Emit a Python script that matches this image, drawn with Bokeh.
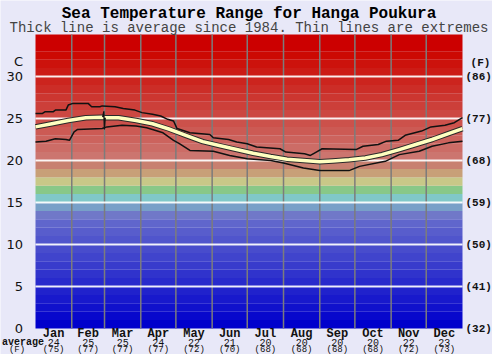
from bokeh.plotting import figure
from bokeh.models import ColumnDataSource, Range1d
from bokeh.core.properties import value
from bokeh.embed import file_html
from bokeh.resources import INLINE

# ---------------- data ----------------
title_text = "Sea Temperature Range for Hanga Poukura"
subtitle_text = "Thick line is average since 1984. Thin lines are extremes"

months = ["Jan", "Feb", "Mar", "Apr", "May", "Jun", "Jul", "Aug", "Sep", "Oct", "Nov", "Dec"]
month_days = [31, 28, 31, 30, 31, 30, 31, 31, 30, 31, 30, 31]
month_avg_c = ["24", "25", "25", "24", "22", "21", "20", "20", "20", "20", "22", "23"]
month_avg_f = ["(75)", "(77)", "(77)", "(77)", "(72)", "(70)", "(68)", "(68)", "(68)", "(68)", "(72)", "(73)"]

c_ticks = [0, 5, 10, 15, 20, 25, 30]
c_labels = ["0", "5", "10", "15", "20", "25", "30"]
f_labels = ["(32)", "(41)", "(50)", "(59)", "(68)", "(77)", "(86)"]

avg_day = [0, 14, 28, 43, 57, 59.8, 71, 86, 100, 114, 129, 143, 158, 172, 186, 201,
           215, 229, 243, 254, 268, 282, 296, 311, 325, 339, 353, 365]
avg_temp = [24.0, 24.37, 24.76, 25.08, 25.15, 25.1, 25.08, 24.76, 24.37, 23.75, 22.95,
            22.25, 21.75, 21.3, 20.87, 20.47, 20.16, 20.0, 19.85, 19.95, 20.1, 20.3, 20.7, 21.3,
            21.9, 22.5, 23.2, 23.8]
spike_day = [57.4, 58.4, 58.9, 59.6]
spike_temp = [25.15, 25.85, 23.7, 25.1]

max_day = [0, 6, 8, 15, 17, 26, 28, 32, 45, 48, 55, 57, 68, 75, 85, 91, 100, 107, 113, 118, 121,
           132, 149, 152, 165, 172, 181, 189, 209, 214, 230, 235, 240, 245, 274, 280, 293, 300,
           310, 316, 330, 338, 350, 358, 365]
max_temp = [25.6, 25.6, 25.8, 25.8, 26.0, 26.0, 26.6, 26.8, 26.8, 26.4, 26.4, 26.5, 26.4, 26.2,
            26.0, 25.7, 25.5, 25.3, 24.9, 24.7, 23.8, 23.3, 23.1, 22.7, 22.5, 22.2, 22.0, 21.6,
            21.4, 21.0, 20.8, 20.6, 21.0, 21.4, 21.3, 21.7, 21.9, 22.3, 22.4, 23.0, 23.5, 24.0,
            24.2, 24.5, 25.1]

min_day = [0, 9, 17, 26, 29, 33, 36, 57, 61, 74, 86, 95, 100, 109, 118, 123, 132, 152, 166, 181,
           201, 212, 229, 243, 268, 277, 299, 311, 328, 339, 353, 365]
min_temp = [22.2, 22.3, 22.6, 22.5, 22.4, 23.4, 23.7, 23.8, 24.0, 24.2, 24.1, 23.9, 23.7, 23.3,
            22.4, 22.0, 21.2, 21.1, 20.6, 20.2, 20.0, 19.7, 19.1, 18.8, 18.8, 19.3, 19.9, 20.7,
            21.1, 21.7, 22.1, 22.3]

# ---------------- layout helpers (pixel -> data) ----------------
W, H = 492, 354
X0, X1 = 35.0, 462.0          # frame of the temperature chart, pixels
Y0, Y1 = 328.0, 34.0          # 0 C and 35 C, pixels
DAYS, TMAX = 365.0, 35.0
kx = DAYS / (X1 - X0)
ky = TMAX / (Y0 - Y1)


def dx(px):
    return (px - X0) * kx


def ty(py):
    return (Y0 - py) * ky


def band_color(t):
    if t >= 20:
        g = max(0, int((33 - t) * 9))
        return "#%02x%02x%02x" % (204, g, max(0, g - 6))
    fixed = {19: (200, 128, 112), 18: (200, 160, 120), 17: (200, 200, 136),
             16: (136, 200, 136), 15: (128, 200, 200), 14: (120, 160, 200),
             13: (112, 120, 200)}
    if t in fixed:
        return "#%02x%02x%02x" % fixed[t]
    return "#%02x%02x%02x" % (int(8 * t), int(8.5 * t), 204)


bg = "#e8e8f8"
bounds = [0]
for d in month_days:
    bounds.append(bounds[-1] + d)
centers = [(bounds[i] + bounds[i + 1]) / 2 for i in range(12)]

p = figure(width=W, height=H, output_backend="svg", toolbar_location=None, title=None,
           x_range=Range1d(dx(0), dx(W)), y_range=Range1d(ty(H), ty(0)),
           min_border=0, min_border_left=0, min_border_right=0,
           min_border_top=0, min_border_bottom=0)
p.background_fill_color = bg
p.border_fill_color = bg
p.outline_line_color = None
p.xaxis.visible = False
p.yaxis.visible = False
p.grid.visible = False

# temperature colour bands
band_lo = list(range(0, 35))
p.quad(left=0, right=DAYS, bottom=band_lo, top=[b + 1 for b in band_lo],
       fill_color=[band_color(b) for b in band_lo], line_color=None)

# grid lines
p.segment(x0=bounds[1:-1], y0=[0] * 11, x1=bounds[1:-1], y1=[TMAX] * 11,
          line_color="#7c7c7c", line_width=1.5)
p.segment(x0=[0] * 6, y0=c_ticks[1:], x1=[DAYS] * 6, y1=c_ticks[1:],
          line_color="white", line_width=2, line_alpha=0.9)

# data lines
p.line(max_day, max_temp, line_color="#111111", line_width=1.5)
p.line(min_day, min_temp, line_color="#111111", line_width=1.5)
p.line(avg_day, avg_temp, line_color="#2a2a2a", line_width=5.5, line_join="round")
p.line(avg_day, avg_temp, line_color="#ffffc0", line_width=3.5, line_join="round")
p.line(spike_day, spike_temp, line_color="#111111", line_width=1.3)

mono = value("Liberation Mono")
ink = "#111111"

# titles
p.text(x=[dx(248.5)], y=[ty(13)], text=[title_text], text_align="center",
       text_baseline="middle", text_font=mono, text_font_style="bold",
       text_font_size=value("16px"), text_color="black")
p.text(x=[dx(248.5)], y=[ty(27)], text=[subtitle_text], text_align="center",
       text_baseline="middle", text_font=mono, text_font_size=value("14px"),
       text_color="#444444")

# left (C) tick labels
p.text(x=[dx(22.5)] * len(c_ticks), y=c_ticks, text=c_labels, text_align="right",
       text_baseline="middle", text_font=value("DejaVu Sans"), text_font_size=value("13px"),
       text_color=ink)
p.text(x=[dx(18)], y=[ty(61)], text=["C"], text_align="center", text_baseline="middle",
       text_font=value("DejaVu Sans"), text_font_size=value("13px"), text_color=ink)

# right (F) tick labels
p.text(x=[dx(465)] * len(c_ticks), y=c_ticks, text=f_labels, text_align="left",
       text_baseline="middle", text_font=mono, text_font_style="bold",
       text_font_size=value("11px"), text_color=ink)
p.text(x=[dx(480)], y=[ty(62)], text=["(F)"], text_align="center", text_baseline="middle",
       text_font=mono, text_font_style="bold", text_font_size=value("11px"), text_color=ink)

# month rows
src = ColumnDataSource(dict(x=centers, m=months, c=month_avg_c, f=month_avg_f,
                            ym=[ty(333)] * 12, yc=[ty(341.5)] * 12, yf=[ty(349.3)] * 12))
p.text(x="x", y="ym", text="m", source=src, text_align="center", text_baseline="middle",
       text_font=mono, text_font_style="bold", text_font_size=value("12px"), text_color=ink)
p.text(x="x", y="yc", text="c", source=src, text_align="center", text_baseline="middle",
       text_font=mono, text_font_size=value("10px"), text_color=ink)
p.text(x="x", y="yf", text="f", source=src, text_align="center", text_baseline="middle",
       text_font=mono, text_font_size=value("9px"), text_color=ink)
p.text(x=[dx(1.5)], y=[ty(341.5)], text=["average"], text_align="left",
       text_baseline="middle", text_font=mono, text_font_style="bold",
       text_font_size=value("10px"), text_color=ink)
p.text(x=[dx(16.5)], y=[ty(349.3)], text=["(F)"], text_align="center",
       text_baseline="middle", text_font=mono, text_font_size=value("9px"),
       text_color=ink)

open("out.html", "w").write(file_html(p, INLINE))
